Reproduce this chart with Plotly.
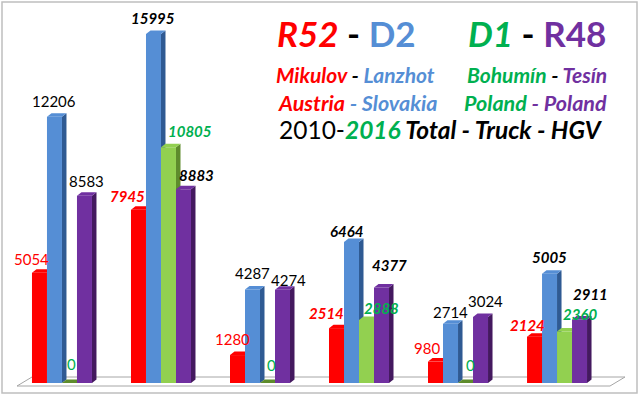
import plotly.graph_objects as go

# ---------------- data ----------------
categories = ["2010 Total", "2016 Total", "2010 Truck", "2016 Truck", "2010 HGV", "2016 HGV"]
r52_mikulov = [5054, 7945, 1280, 2514, 980, 2124]
d2_lanzhot = [12206, 15995, 4287, 6464, 2714, 5005]
d1_bohumin = [0, 10805, 0, 2888, 0, 2360]
r48_tesin = [8583, 8883, 4274, 4377, 3024, 2911]
series_names = ["R52 Mikulov - Austria", "D2 Lanzhot - Slovakia", "D1 Bohumín - Poland", "R48 Tesín - Poland"]

# ---------------- style ----------------
W, H = 640, 399
FONT = "Lato"
RED, BLUE, GREEN, PURPLE = "#FF0000", "#558ED5", "#00B050", "#7030A0"
bar_colors = ["#FF0000", "#558ED5", "#92D050", "#7030A0"]
side_colors = ["#A50000", "#2F5A93", "#5E8C2C", "#44195F"]
label_colors = [RED, "#000000", GREEN, "#000000"]
# label offsets in pixels (x shift, height of label centre above bar top)
label_dx = [[-8, -11, -5, -10, -9, -7],
            [0, 0, 0, -5, 0, 0],
            [2, 22, 4, 15, 5, 15],
            [2, 13, 6, 8, 5, 11]]
label_dy = [[14, 14, 16, 15, 14, 12],
            [16, 16, 16, 11, 12, 17],
            [19, 16, 18, 12, 18, 18],
            [15, 14, 10, 22, 16, 25]]

x_range = [-0.626, 5.838]
y_range = [-367, 17553]
margin_b = 8
plot_h = H - margin_b
px_per_cat = W / (x_range[1] - x_range[0])
px_per_val = plot_h / (y_range[1] - y_range[0])
bargap = 0.394
bar_w = (1 - bargap) / 4
depth_x = 4.5 / px_per_cat
depth_y = 3.5 / px_per_val

series = [r52_mikulov, d2_lanzhot, d1_bohumin, r48_tesin]
xs = list(range(len(categories)))

fig = go.Figure()
for s, vals in enumerate(series):
    fig.add_trace(go.Bar(
        x=xs, y=vals, name=series_names[s], customdata=categories,
        marker=dict(color=bar_colors[s], line=dict(width=0)),
        hovertemplate="%{customdata}: %{y}<extra>" + series_names[s] + "</extra>",
    ))

shapes = []
def px2paper_x(px):
    return px / W
def py2paper_y(py):
    return (plot_h - py) / plot_h

# floor (3-D base plate)
floor = [(17, 386), (610, 386), (625, 377), (32, 377)]
path = "M " + " L ".join(f"{px2paper_x(a)},{py2paper_y(b)}" for a, b in floor) + " Z"
shapes.append(dict(type="path", xref="paper", yref="paper", path=path,
                   fillcolor="white", line=dict(color="#A6A6A6", width=1), layer="below"))

# 3-D side and top faces for each bar
annotations = []
for s, vals in enumerate(series):
    for i, v in enumerate(vals):
        cx = i + (s - 1.5) * bar_w
        x0, x1 = cx - bar_w / 2, cx + bar_w / 2
        side = (f"M {x1},0 L {x1 + depth_x},{depth_y} L {x1 + depth_x},{v + depth_y} "
                f"L {x1},{v} Z")
        top = (f"M {x0},{v} L {x0 + depth_x},{v + depth_y} L {x1 + depth_x},{v + depth_y} "
               f"L {x1},{v} Z")
        shapes.append(dict(type="path", xref="x", yref="y", path=side,
                           fillcolor=side_colors[s], line=dict(width=0), layer="below"))
        shapes.append(dict(type="path", xref="x", yref="y", path=top,
                           fillcolor=bar_colors[s] if v > 0 else side_colors[s],
                           line=dict(width=0), layer="below"))
        txt = str(v)
        if i % 2 == 1:
            txt = f"<b><i>{txt}</i></b>"
        annotations.append(dict(
            x=cx, y=v, xref="x", yref="y", text=txt, showarrow=False,
            xanchor="center", yanchor="middle",
            xshift=label_dx[s][i], yshift=label_dy[s][i],
            font=dict(family=FONT, size=15, color=label_colors[s]),
        ))

# outer border
shapes.append(dict(type="rect", xref="paper", yref="paper",
                   x0=px2paper_x(2), x1=px2paper_x(637), y0=py2paper_y(393), y1=py2paper_y(2),
                   line=dict(color="#BFBFBF", width=1.5), fillcolor="rgba(0,0,0,0)", layer="below"))

def title(px, py, text, size):
    annotations.append(dict(x=px2paper_x(px), y=py2paper_y(py), xref="paper", yref="paper",
                            text=text, showarrow=False, xanchor="center", yanchor="middle",
                            font=dict(family=FONT, size=size, color="#000000")))

def c(col, t, b=True, it=True):
    t = f"<i>{t}</i>" if it else t
    t = f"<b>{t}</b>" if b else t
    return f"<span style='color:{col}'>{t}</span>"

title(346, 33, c(RED, "R52") + c("#000", " - ", it=False) + c(BLUE, "D2", it=False), 35)
title(537, 33, c(GREEN, "D1") + c("#000", " - ", it=False) + c(PURPLE, "R48", it=False), 35)
title(355, 74, c(RED, "Mikulov") + c("#000", " - ") + c(BLUE, "Lanzhot"), 21)
title(537, 74, c(GREEN, "Bohumín") + c("#000", " - ") + c(PURPLE, "Tesín"), 21)
title(357, 103, c(RED, "Austria") + c(BLUE, " - Slovakia"), 21.5)
title(535, 103, c(GREEN, "Poland") + c(PURPLE, " - Poland"), 21.5)
title(441, 130, c("#000", "2010-", b=False, it=False) + c(GREEN, "2016") + c("#000", " Total - Truck - HGV"), 24.5)

fig.update_layout(
    width=W, height=H,
    margin=dict(l=0, r=0, t=0, b=margin_b),
    paper_bgcolor="white", plot_bgcolor="rgba(0,0,0,0)",
    barmode="group", bargap=bargap, bargroupgap=0,
    showlegend=False,
    shapes=shapes, annotations=annotations,
    xaxis=dict(range=x_range, visible=False, fixedrange=True),
    yaxis=dict(range=y_range, visible=False, fixedrange=True),
    font=dict(family=FONT),
)
fig.write_html("out.html", config={"displayModeBar": False},
               post_script="document.body.style.margin='0px';document.body.style.overflow='hidden';")
